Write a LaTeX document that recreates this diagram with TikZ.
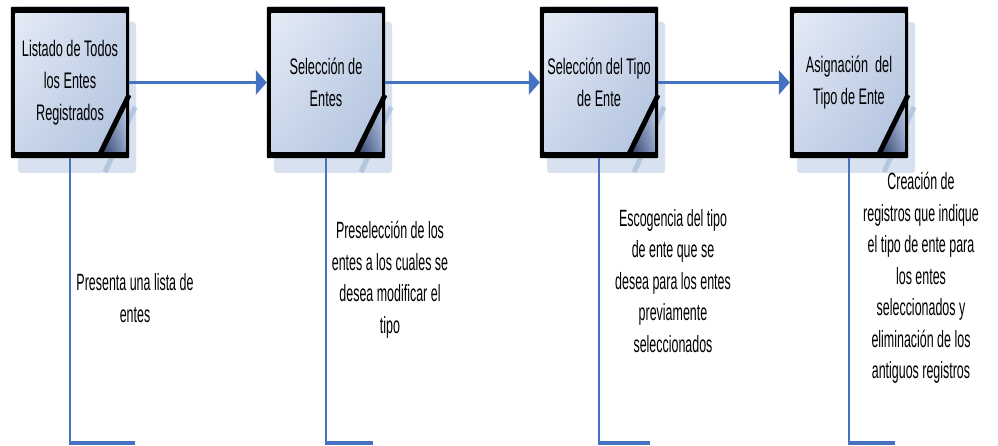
\documentclass[tikz,border=0pt]{standalone}
\usepackage{fontspec}
\newfontfamily\boxsans[FakeStretch=0.565]{Liberation Sans}
\newfontfamily\notesans[FakeStretch=0.53]{Liberation Sans}
\usetikzlibrary{arrows.meta,shadings}

\definecolor{flowblue}{HTML}{4673C1}
\definecolor{shadowblue}{HTML}{D8E1F0}
\definecolor{shadowline}{HTML}{B5C6E0}
\definecolor{faceA}{HTML}{E7EDF7}
\definecolor{faceB}{HTML}{C6D3E9}
\definecolor{faceC}{HTML}{C9D6EA}
\definecolor{faceD}{HTML}{AFC1DC}
\definecolor{folddark}{HTML}{25355A}
\definecolor{foldmid}{HTML}{8C9EC6}
\definecolor{foldlight}{HTML}{C3D0E6}

\tikzset{
  x=1pt, y=-1pt,
  txt/.style={font=\notesans\fontsize{23.5}{31.5}\selectfont, align=center,
    inner sep=0pt, text=black},
  procface/.style={rectangle, align=center, inner sep=0pt, text=black,
    font=\boxsans\fontsize{22.5}{32}\selectfont,
    minimum width=118pt, minimum height=151pt,
    upper left=faceA, upper right=faceB, lower left=faceC, lower right=faceD},
  flowarrow/.style={draw=flowblue, line width=3pt,
    -{Triangle[length=11pt,width=24pt]}},
  leadline/.style={draw=flowblue, line width=2pt},
  footline/.style={draw=flowblue, line width=3.5pt},
}

\begin{document}
\begin{tikzpicture}
\fill[white] (0,0) rectangle (998,446);
\useasboundingbox (0,0) rectangle (998,446);

% process boxes: shadow, shaded face, folded corner and heavy frame
\foreach \i/\L/\txt in {
  1/11/{Listado de Todos\\los Entes\\Registrados},
  2/267/{Selección de\\Entes},
  3/540/{Selección del Tipo\\de Ente},
  4/790/{Asignación\ \ del\\Tipo de Ente}} {
  \fill[shadowblue, rounded corners=3pt] (\L+7,22) rectangle (\L+125,173);
  \draw[shadowline, line width=5pt] (\L+124,107) -- (\L+94,172);
  \node[procface] (b\i) at (\L+59,82.5) {\txt};
  \shade[upper left=foldmid, upper right=foldlight, lower left=folddark, lower right=foldmid]
    (\L+115,95) -- (\L+115,152) -- (\L+88,152) -- cycle;
  \draw[line width=5pt] (\L+118,95) -- (\L+88,156);
  \fill[black, even odd rule, rounded corners=1pt]
    (b\i.north west) rectangle (b\i.south east)
    ([xshift=4pt,yshift=-6pt]b\i.north west) rectangle ([xshift=-3pt,yshift=6pt]b\i.south east);
}

% flow between the steps
\draw[flowarrow] (b1.east) -- (b2.west);
\draw[flowarrow] (b2.east) -- (b3.west);
\draw[flowarrow] (b3.east) -- (b4.west);

% annotation brackets
\coordinate (e1) at (135,443);
\coordinate (e2) at (373,443);
\coordinate (e3) at (650,443);
\coordinate (e4) at (895,443);
\foreach \i in {1,2,3,4} {
  \draw[leadline] (b\i.south) -- ([yshift=-1.75pt]b\i.south |- e\i);
  \draw[footline] ([xshift=-1pt]b\i.south |- e\i) -- (e\i);
}

% annotation texts
\node[txt] (n1) at (135,298) {Presenta una lista de\\entes};
\node[txt] (n2) at (390,280) {Preselección de los\\entes a los cuales se\\desea modificar el\\tipo};
\node[txt] (n3) at (673,281) {Escogencia del tipo\\de ente que se\\desea para los entes\\previamente\\seleccionados};
\node[txt] (n4) at (921,278) {Creación de\\registros que indique\\el tipo de ente para\\los entes\\seleccionados y\\eliminación de los\\antiguos registros};
\end{tikzpicture}
\end{document}
